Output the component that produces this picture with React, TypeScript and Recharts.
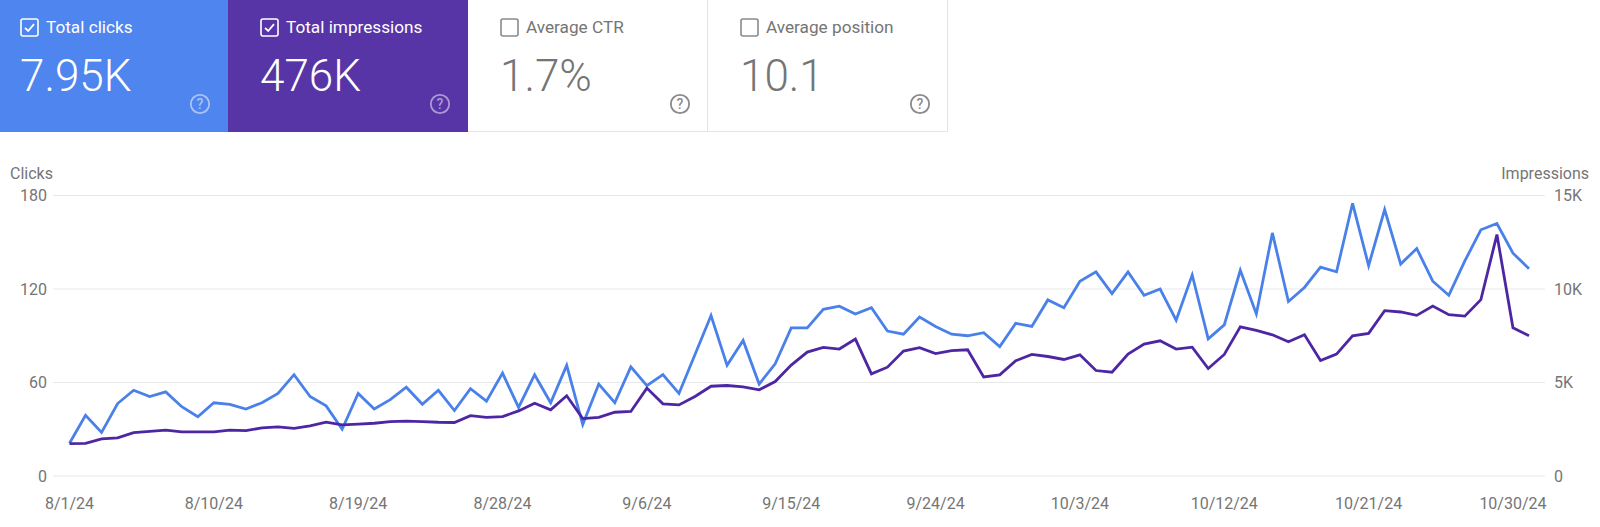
import { CartesianGrid, Line, LineChart, XAxis, YAxis } from 'recharts';

const dates = [
    '8/1/24', '8/2/24', '8/3/24', '8/4/24', '8/5/24', '8/6/24', '8/7/24', '8/8/24', '8/9/24', '8/10/24',
    '8/11/24', '8/12/24', '8/13/24', '8/14/24', '8/15/24', '8/16/24', '8/17/24', '8/18/24', '8/19/24', '8/20/24',
    '8/21/24', '8/22/24', '8/23/24', '8/24/24', '8/25/24', '8/26/24', '8/27/24', '8/28/24', '8/29/24', '8/30/24',
    '8/31/24', '9/1/24', '9/2/24', '9/3/24', '9/4/24', '9/5/24', '9/6/24', '9/7/24', '9/8/24', '9/9/24',
    '9/10/24', '9/11/24', '9/12/24', '9/13/24', '9/14/24', '9/15/24', '9/16/24', '9/17/24', '9/18/24', '9/19/24',
    '9/20/24', '9/21/24', '9/22/24', '9/23/24', '9/24/24', '9/25/24', '9/26/24', '9/27/24', '9/28/24', '9/29/24',
    '9/30/24', '10/1/24', '10/2/24', '10/3/24', '10/4/24', '10/5/24', '10/6/24', '10/7/24', '10/8/24', '10/9/24',
    '10/10/24', '10/11/24', '10/12/24', '10/13/24', '10/14/24', '10/15/24', '10/16/24', '10/17/24', '10/18/24', '10/19/24',
    '10/20/24', '10/21/24', '10/22/24', '10/23/24', '10/24/24', '10/25/24', '10/26/24', '10/27/24', '10/28/24', '10/29/24',
    '10/30/24', '10/31/24',
];

const clicks = [
    21, 39, 28, 46.5, 55, 51, 54, 44.5, 38, 47,
    46, 43, 47, 53, 65, 51, 45, 30, 53, 43,
    49, 57, 46, 55, 42, 56, 48, 66, 44, 65,
    47, 71, 33, 59, 47, 70, 58, 65, 53, 78,
    103, 71, 87, 59, 72, 95, 95, 107, 109, 104,
    108, 93, 91, 102, 96, 91, 90, 92, 83, 98,
    96, 113, 108, 125, 131, 117, 131, 116, 120, 100,
    129, 88, 97, 132, 104, 156, 112, 121, 134, 131,
    175, 135, 171, 136, 146, 125, 116, 138, 158, 162,
    143, 133,
];

const impressions = [
    1730, 1750, 1980, 2040, 2320, 2390, 2450, 2360, 2360, 2360,
    2450, 2430, 2570, 2625, 2550, 2680, 2875, 2730, 2770, 2820,
    2910, 2930, 2910, 2875, 2860, 3230, 3140, 3180, 3480, 3890,
    3540, 4290, 3070, 3140, 3410, 3450, 4700, 3860, 3800, 4250,
    4800, 4840, 4770, 4610, 5050, 5930, 6625, 6875, 6790, 7320,
    5460, 5820, 6680, 6860, 6550, 6710, 6750, 5300, 5410, 6160,
    6500, 6390, 6230, 6480, 5640, 5550, 6520, 7050, 7230, 6790,
    6890, 5750, 6500, 7980, 7790, 7550, 7180, 7550, 6180, 6520,
    7500, 7625, 8840, 8770, 8590, 9090, 8625, 8550, 9430, 12910,
    7930, 7500,
];

const dateTicks = ['8/1/24', '8/10/24', '8/19/24', '8/28/24', '9/6/24', '9/15/24', '9/24/24', '10/3/24', '10/12/24', '10/21/24', '10/30/24'];
const clickTicks = [0, 60, 120, 180];
const impressionTicks = [0, 5000, 10000, 15000];

const chartData = dates.map((date, i) => ({ date, clicks: clicks[i], impressions: impressions[i] }));

const FONT = 'Roboto, sans-serif';
const AXIS_COLOR = '#757575';

function formatK(v: number) {
    return v === 0 ? '0' : `${v / 1000}K`;
}

function CheckBox({ checked, color, left }: { checked: boolean; color: string; left: number }) {
    return (
        <svg width="19" height="19" viewBox="0 0 19 19" style={{ position: 'absolute', left, top: 18 }}>
            <rect x="1" y="1" width="17" height="17" rx="2" fill="none" stroke={color} strokeWidth="1.6" />
            {checked && <path d="M5 9.8 L8.2 13 L14 6.2" fill="none" stroke={color} strokeWidth="1.8" />}
        </svg>
    );
}

function HelpIcon({ color, left }: { color: string; left: number }) {
    return (
        <svg width="22" height="22" viewBox="0 0 22 22" style={{ position: 'absolute', left, top: 93 }}>
            <circle cx="11" cy="11" r="9.2" fill="none" stroke={color} strokeWidth="1.8" />
            <text x="11" y="16" textAnchor="middle" fontFamily={FONT} fontSize="14" fontWeight="500" fill={color}>
                ?
            </text>
        </svg>
    );
}

interface CardProps {
    left: number;
    width: number;
    inset: number;
    title: string;
    value: string;
    background: string;
    color: string;
    boxColor: string;
    iconColor: string;
    checked: boolean;
    border?: string;
}

function Card({ left, width, inset, title, value, background, color, boxColor, iconColor, checked, border }: CardProps) {
    return (
        <div
            style={{
                position: 'absolute',
                left,
                top: 0,
                width,
                height: 132,
                background,
                boxSizing: 'border-box',
                borderRight: border,
                borderBottom: border,
                fontFamily: FONT,
            }}
        >
            <CheckBox checked={checked} color={boxColor} left={inset} />
            <div style={{ position: 'absolute', left: inset + 26, top: 17, fontSize: 17.2, lineHeight: '20px', color, whiteSpace: 'nowrap' }}>
                {title}
            </div>
            <div style={{ position: 'absolute', left: inset, top: 50, fontSize: 44, fontWeight: 300, lineHeight: '52px', color, whiteSpace: 'nowrap' }}>
                {value}
            </div>
            <HelpIcon color={iconColor} left={inset + 169} />
        </div>
    );
}

export default function App() {
    return (
        <div style={{ position: 'absolute', left: 0, top: 0, width: 1600, height: 527, background: '#ffffff', overflow: 'hidden' }}>
            <Card left={0} width={228} inset={20} title="Total clicks" value="7.95K" background="#4f85ee" color="#ffffff" boxColor="#ffffff" iconColor="#a9c3f6" checked />
            <Card left={228} width={240} inset={32} title="Total impressions" value="476K" background="#5735a7" color="#ffffff" boxColor="#ffffff" iconColor="#ab9ad3" checked />
            <Card left={468} width={240} inset={32} title="Average CTR" value="1.7%" background="#ffffff" color="#757575" boxColor="#8a8a8a" iconColor="#8a8a8a" checked={false} border="1px solid #e4e4e4" />
            <Card left={708} width={240} inset={32} title="Average position" value="10.1" background="#ffffff" color="#757575" boxColor="#8a8a8a" iconColor="#8a8a8a" checked={false} border="1px solid #e4e4e4" />

            <div style={{ position: 'absolute', left: 10, top: 165, fontFamily: FONT, fontSize: 16, lineHeight: '18px', color: AXIS_COLOR }}>Clicks</div>
            <div style={{ position: 'absolute', right: 11, top: 165, fontFamily: FONT, fontSize: 16, lineHeight: '18px', color: AXIS_COLOR }}>Impressions</div>

            <div style={{ position: 'absolute', left: 0, top: 0 }}>
                <LineChart width={1600} height={527} data={chartData} margin={{ top: 195.5, right: 0, bottom: 0, left: 0 }}>
                    <CartesianGrid vertical={false} stroke="#e8e8e8" yAxisId="clicks" />
                    <XAxis
                        dataKey="date"
                        ticks={dateTicks}
                        interval={0}
                        axisLine={false}
                        tickLine={false}
                        height={51}
                        padding={{ left: 16.5, right: 16 }}
                        tickMargin={16}
                        tick={{ fontFamily: FONT, fontSize: 16, fill: AXIS_COLOR }}
                    />
                    <YAxis
                        yAxisId="clicks"
                        orientation="left"
                        width={53}
                        domain={[0, 180]}
                        ticks={clickTicks}
                        axisLine={false}
                        tickLine={false}
                        tickMargin={0}
                        tick={{ fontFamily: FONT, fontSize: 16, fill: AXIS_COLOR }}
                    />
                    <YAxis
                        yAxisId="impressions"
                        orientation="right"
                        width={55}
                        domain={[0, 15000]}
                        ticks={impressionTicks}
                        tickFormatter={formatK}
                        axisLine={false}
                        tickLine={false}
                        tickMargin={3}
                        tick={{ fontFamily: FONT, fontSize: 16, fill: AXIS_COLOR }}
                    />
                    <Line yAxisId="clicks" type="linear" dataKey="clicks" stroke="#4a80ea" strokeWidth={2.8} dot={false} isAnimationActive={false} />
                    <Line yAxisId="impressions" type="linear" dataKey="impressions" stroke="#4d27a3" strokeWidth={2.8} dot={false} isAnimationActive={false} />
                </LineChart>
            </div>
        </div>
    );
}
